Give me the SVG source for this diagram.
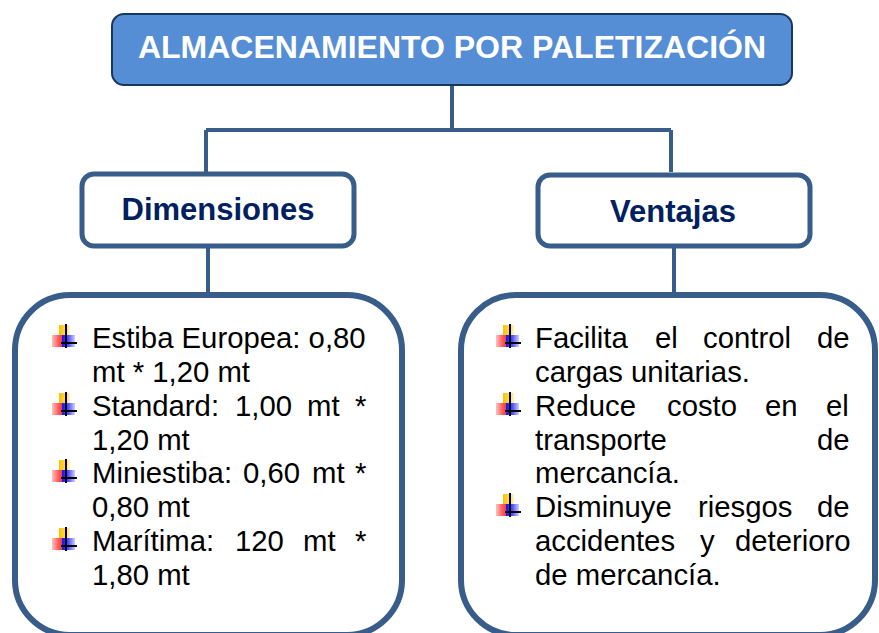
<svg xmlns="http://www.w3.org/2000/svg" width="879" height="633" viewBox="0 0 879 633">
<defs>
<linearGradient id="gy" x1="0" y1="0" x2="1" y2="0"><stop offset="0" stop-color="#FFC000"/><stop offset="0.55" stop-color="#FFD84A"/><stop offset="1" stop-color="#FFF4C8"/></linearGradient>
<linearGradient id="gr" x1="0" y1="0" x2="1" y2="0"><stop offset="0" stop-color="#FFC0C0"/><stop offset="0.6" stop-color="#FF5A5A"/><stop offset="1" stop-color="#FF3030"/></linearGradient>
<linearGradient id="gb" x1="0" y1="0" x2="1" y2="0"><stop offset="0" stop-color="#1010FF"/><stop offset="0.5" stop-color="#5050FF"/><stop offset="1" stop-color="#D0D0FF"/></linearGradient>
<g id="bul">
<rect x="-7" y="-23" width="11" height="11" fill="url(#gy)"/>
<rect x="-14" y="-13" width="11" height="12" fill="url(#gr)"/>
<rect x="-4" y="-13" width="13" height="12" fill="url(#gb)"/>
<line x1="0" y1="-24" x2="0" y2="0" stroke="#000" stroke-width="2"/>
<line x1="-5" y1="-5" x2="11" y2="-5" stroke="#000" stroke-width="2"/>
</g>
</defs>
<style>
.conn{stroke:#385D8A;stroke-width:4;fill:none}
.box{fill:#fff;stroke:#385D8A;stroke-width:5}
.big{fill:#fff;stroke:#385D8A;stroke-width:6}
.hd{font-family:"Liberation Sans",Arial,sans-serif;font-weight:bold;font-size:31px;fill:#002060;text-anchor:middle}
.tx{font-family:"Liberation Sans",Arial,sans-serif;font-size:29.3px;fill:#000}
</style>
<rect width="879" height="633" fill="#fff"/>
<g id="connectors">
<path class="conn" d="M452 85 V130 M206 130 H671 M206 130 V172 M671 130 V172 M208 248 V295 M674 248 V295"/>
</g>
<g id="title">
<rect x="112" y="14" width="680" height="71" rx="12" fill="#558ED5" stroke="#17375E" stroke-width="2"/>
<text x="452" y="58" font-family="Liberation Sans,Arial,sans-serif" font-weight="bold" font-size="32" fill="#fff" text-anchor="middle">ALMACENAMIENTO POR PALETIZACIÓN</text>
</g>
<g id="dimensiones">
<rect class="box" x="82" y="174" width="272" height="72" rx="12"/>
<text class="hd" x="218" y="220">Dimensiones</text>
</g>
<g id="ventajas">
<rect class="box" x="538" y="175" width="272" height="71" rx="12"/>
<text class="hd" x="673" y="222">Ventajas</text>
</g>
<g id="dim-list">
<rect class="big" x="15" y="295" width="387" height="340" rx="55"/>
<use href="#bul" x="66" y="348"/>
<use href="#bul" x="66" y="416"/>
<use href="#bul" x="66" y="483"/>
<use href="#bul" x="66" y="551"/>
<text class="tx" y="348"><tspan x="92">Estiba Europea: o,80</tspan></text>
<text class="tx" y="382"><tspan x="92">mt * 1,20 mt</tspan></text>
<text class="tx" y="416"><tspan x="92">Standard:</tspan><tspan x="235">1,00</tspan><tspan x="307">mt</tspan><tspan x="355">*</tspan></text>
<text class="tx" y="450"><tspan x="92">1,20 mt</tspan></text>
<text class="tx" y="483"><tspan x="92">Miniestiba:</tspan><tspan x="243">0,60</tspan><tspan x="312">mt</tspan><tspan x="355">*</tspan></text>
<text class="tx" y="517"><tspan x="92">0,80 mt</tspan></text>
<text class="tx" y="551"><tspan x="92">Marítima:</tspan><tspan x="235">120</tspan><tspan x="303">mt</tspan><tspan x="355">*</tspan></text>
<text class="tx" y="585"><tspan x="92">1,80 mt</tspan></text>
</g>
<g id="ven-list">
<rect class="big" x="461" y="295" width="414" height="340" rx="55"/>
<use href="#bul" x="510" y="348"/>
<use href="#bul" x="510" y="416"/>
<use href="#bul" x="510" y="517"/>
<text class="tx" y="348"><tspan x="535">Facilita</tspan><tspan x="655">el</tspan><tspan x="703">control</tspan><tspan x="817">de</tspan></text>
<text class="tx" y="382"><tspan x="535">cargas unitarias.</tspan></text>
<text class="tx" y="416"><tspan x="535">Reduce</tspan><tspan x="667">costo</tspan><tspan x="765">en</tspan><tspan x="826">el</tspan></text>
<text class="tx" y="450"><tspan x="535">transporte</tspan><tspan x="817">de</tspan></text>
<text class="tx" y="483"><tspan x="535">mercancía.</tspan></text>
<text class="tx" y="517"><tspan x="535">Disminuye</tspan><tspan x="698">riesgos</tspan><tspan x="817">de</tspan></text>
<text class="tx" y="551"><tspan x="535">accidentes</tspan><tspan x="700">y</tspan><tspan x="735">deterioro</tspan></text>
<text class="tx" y="585"><tspan x="535">de mercancía.</tspan></text>
</g>
</svg>
